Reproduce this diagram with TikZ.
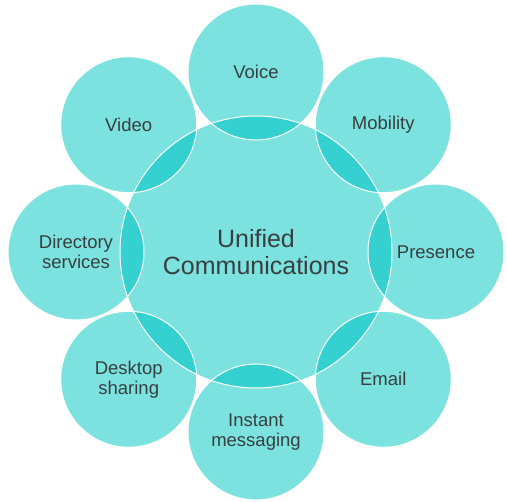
\documentclass[tikz,border=0pt]{standalone}
\usepackage{fontspec}
\setmainfont{Liberation Sans}
\usetikzlibrary{positioning}
\definecolor{ucLight}{HTML}{7BE2DF}
\definecolor{ucDark}{HTML}{35D1D1}
\definecolor{ucText}{HTML}{383F40}

\begin{document}
\begin{tikzpicture}[x=1pt, y=-1pt,
	hub/.style={circle, minimum size=272pt, inner sep=0pt, fill=ucLight, text=ucText,
		font=\fontsize{25}{27}\selectfont, align=center},
	spoke/.style={circle, minimum size=136pt, inner sep=0pt, fill=ucLight, text=ucText,
		font=\fontsize{18.5}{20}\selectfont, align=center},
	rim/.style={draw=white, line width=1pt}]

	\useasboundingbox (0, 0) rectangle (507, 502);

	\node [hub] (uc) at (256, 252) {};

	\foreach \m/\l [count=\i from 0] in {voice/Voice, mobility/Mobility, presence/Presence, email/Email,
			im/{Instant\\messaging}, desktop/{Desktop\\sharing}, directory/{Directory\\services}, video/Video}
		\node [spoke] (\m) at ({256 + 180*sin(\i*45)}, {252 - 180*cos(\i*45)}) {\l};

	% darker overlaps with the hub
	\begin{scope}
		\clip (uc.center) circle (136pt);
		\foreach \m in {voice, mobility, presence, email, im, desktop, directory, video}
			\fill [ucDark] (\m.center) circle (68pt);
	\end{scope}

	\foreach \m in {voice, mobility, presence, email, im, desktop, directory, video}
		\draw [rim] (\m.center) circle (68pt);
	\draw [rim] (uc.center) circle (136pt);

	\node [text=ucText, font=\fontsize{25}{27}\selectfont, align=center] (uc-label) at (uc.center) {Unified\\Communications};
\end{tikzpicture}
\end{document}
